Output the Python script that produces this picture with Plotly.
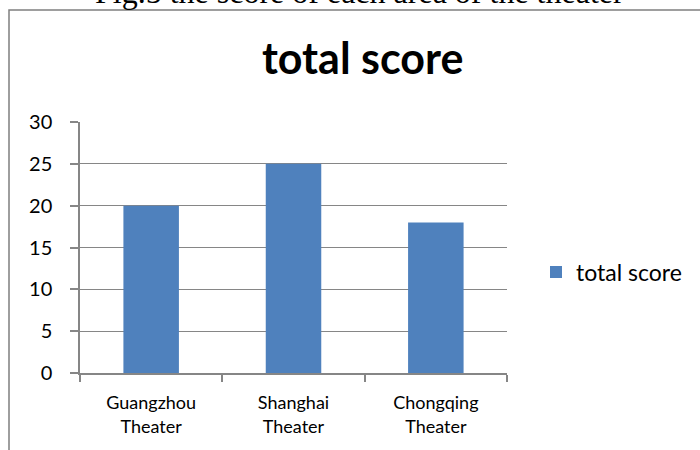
import plotly.graph_objects as go

categories = ["Guangzhou<br>Theater", "Shanghai<br>Theater", "Chongqing<br>Theater"]
values = [20, 25, 18]
series_name = "total score"
chart_title = "total score"
caption = "Fig.5 the score of each area of the theater"

bar_color = "#4F81BD"
grid_color = "#868686"

W, H = 700, 450
# plot area geometry in window pixels
L, R, T, B = 80, 507, 122, 373
pw, ph = R - L, B - T

def px_x(x):
    return (x - L) / pw

def px_y(y):
    return (B - y) / ph

fig = go.Figure()
fig.add_trace(go.Bar(
    x=categories, y=values, name=series_name,
    marker=dict(color=bar_color, line=dict(width=0)),
    width=0.39,
    showlegend=True,
))

fig.update_layout(
    width=W, height=H,
    margin=dict(l=L, r=W - R, t=T, b=H - B, pad=0),
    paper_bgcolor="white", plot_bgcolor="white",
    font=dict(family="Lato, Open Sans, sans-serif", color="#000000"),
    showlegend=True,
    hovermode=False,
    legend=dict(
        x=px_x(536), y=px_y(272), xanchor="left", yanchor="middle",
        font=dict(size=23, family="Lato, sans-serif", color="#000"),
        itemwidth=30, bgcolor="rgba(0,0,0,0)",
    ),
    xaxis=dict(
        showline=True, linecolor=grid_color, linewidth=1.5,
        ticks="outside", tickson="boundaries", ticklen=7, tickcolor=grid_color, tickwidth=1.5,
        tickfont=dict(size=18, family="Lato, sans-serif", color="#000"),
        ticklabelstandoff=13,
        showgrid=False,
    ),
    yaxis=dict(
        range=[0, 30], dtick=5, tick0=0,
        showline=True, linecolor=grid_color, linewidth=1.5,
        ticks="outside", ticklen=8, tickcolor=grid_color, tickwidth=1.5,
        showgrid=True, gridcolor=grid_color, gridwidth=1.2,
        tickfont=dict(size=20, family="Lato, sans-serif", color="#000"),
        ticklabelstandoff=14,
        zeroline=False,
    ),
    annotations=[
        dict(text="<b>" + chart_title + "</b>", x=px_x(362), y=px_y(57),
             xref="paper", yref="paper", xanchor="center", yanchor="middle",
             showarrow=False, font=dict(size=43, family="Lato, sans-serif", color="#000")),
        dict(text=caption, x=px_x(359), y=px_y(-8),
             xref="paper", yref="paper", xanchor="center", yanchor="middle",
             showarrow=False, font=dict(size=32, family="Liberation Serif, Times New Roman, serif", color="#000")),
    ],
    shapes=[
        dict(type="rect", xref="paper", yref="paper",
             x0=px_x(9), x1=px_x(730), y0=px_y(490), y1=px_y(10),
             line=dict(color="#7f7f7f", width=1.5), fillcolor="rgba(0,0,0,0)", layer="above"),
    ],
)

fig.write_html("out.html", config={"displayModeBar": False},
               post_script="document.body.style.margin='0px';")
